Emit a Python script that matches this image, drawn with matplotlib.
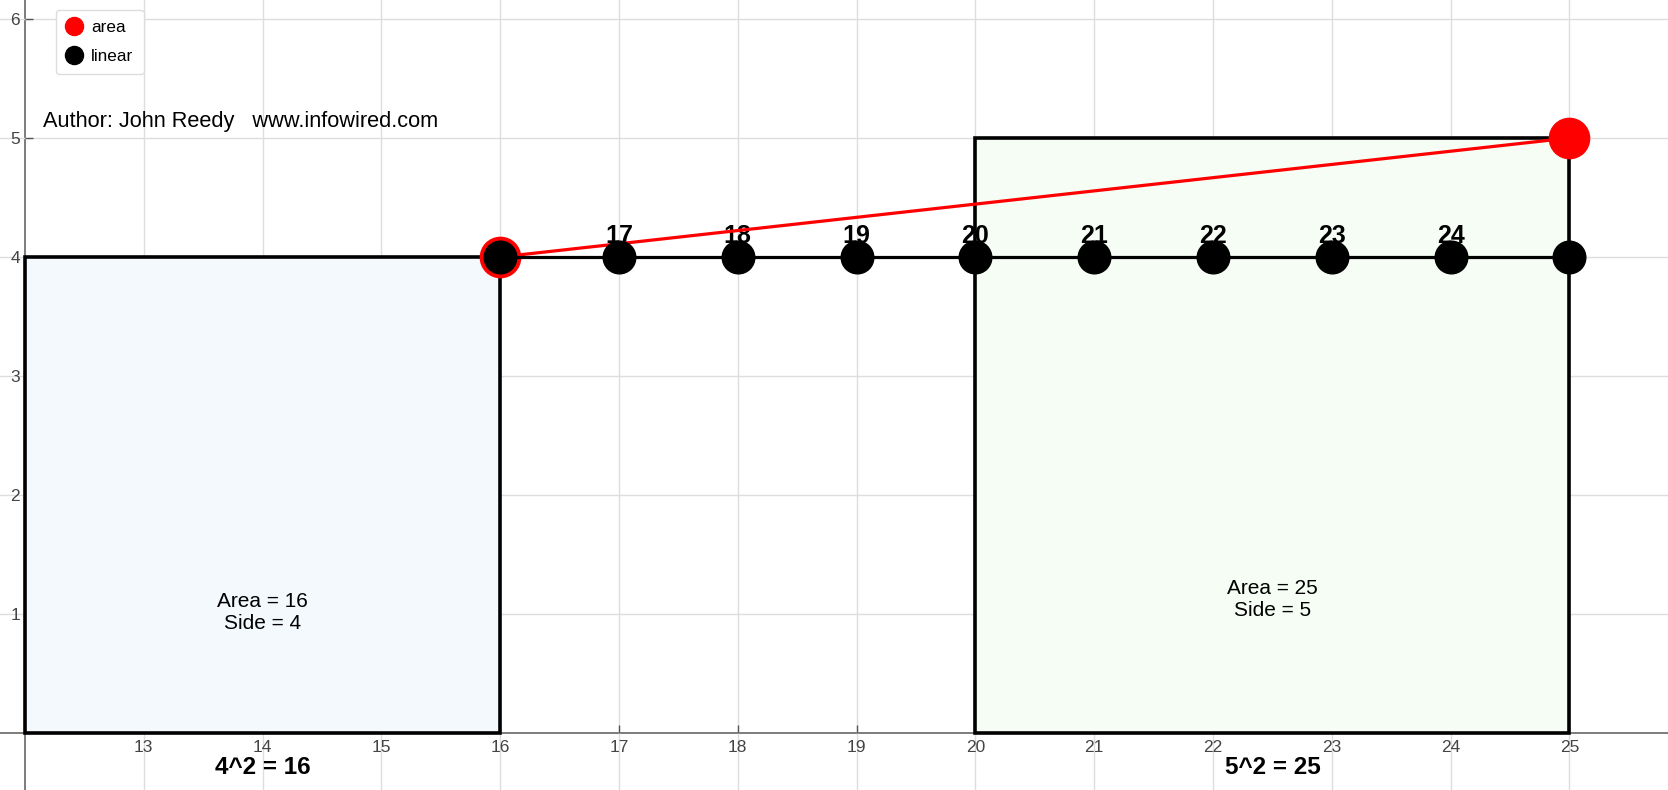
import matplotlib.pyplot as plt
from matplotlib.patches import Rectangle
from matplotlib.lines import Line2D

plt.rcParams['font.family'] = ['Liberation Sans', 'DejaVu Sans']

# data
linear_x = [16, 17, 18, 19, 20, 21, 22, 23, 24, 25]
linear_y = [4, 4, 4, 4, 4, 4, 4, 4, 4, 4]
area_x = [16, 25]
area_y = [4, 5]
point_labels = ['17', '18', '19', '20', '21', '22', '23', '24']
squares = [(12, 4, '#f4f9fd'), (20, 5, '#f5fdf5')]  # left x, side, fill
square_text = ['Area = 16\nSide = 4', 'Area = 25\nSide = 5']
square_text_y = [1.01, 1.12]
bottom_text = ['4^2 = 16', '5^2 = 25']
x_ticks = [13, 14, 15, 16, 17, 18, 19, 20, 21, 22, 23, 24, 25]
y_ticks = [1, 2, 3, 4, 5, 6]

fig = plt.figure(figsize=(16.68, 7.9), dpi=100)
ax = fig.add_axes([0, 0, 1, 1])
ax.set_xlim(11.79, 25.83)
ax.set_ylim(-0.48, 6.16)

# squares
for (x0, side, fc), txt, ty, btxt in zip(squares, square_text, square_text_y, bottom_text):
    ax.add_patch(Rectangle((x0, 0), side, side, facecolor=fc, edgecolor='black',
                           linewidth=2.6, zorder=1))
    cx = x0 + side / 2
    ax.text(cx, ty, txt, ha='center', va='center', fontsize=15, zorder=2,
            linespacing=1.2)
    ax.text(cx, -0.29, btxt, ha='center', va='center', fontsize=17.5,
            fontweight='bold', zorder=2)

# labels over the points
for xv, lab in zip(linear_x[1:-1], point_labels):
    ax.text(xv, 4.12, lab, ha='center', va='baseline', fontsize=18,
            fontweight='bold', zorder=2)

ax.plot(area_x, area_y, color='red', linewidth=2.3, marker='o', markersize=29,
        zorder=3)
ax.plot(linear_x, linear_y, color='black', linewidth=2.3, marker='o',
        markersize=23.5, zorder=4)

ax.text(12.15, 5.09, 'Author: John Reedy   www.infowired.com', fontsize=15.7,
        ha='left', va='baseline', zorder=5)

# axes through (12, 0)
for side in ['top', 'right']:
    ax.spines[side].set_visible(False)
ax.spines['left'].set_position(('data', 12))
ax.spines['bottom'].set_position(('data', 0))
for side in ['left', 'bottom']:
    ax.spines[side].set_color('#666666')
    ax.spines[side].set_linewidth(1.2)
    ax.spines[side].set_zorder(0.5)

ax.set_xticks(x_ticks)
ax.set_yticks(y_ticks)
ax.tick_params(axis='both', direction='in', length=6, width=1, color='#555555',
               labelcolor='#444444', labelsize=12.5)
ax.tick_params(axis='x', pad=5)
ax.tick_params(axis='y', pad=3.5)
ax.grid(True, color='#dddddd', linewidth=1, zorder=0)
ax.set_axisbelow(True)

handles = [Line2D([], [], linestyle='none', marker='o', color='red', markersize=13),
           Line2D([], [], linestyle='none', marker='o', color='black', markersize=13)]
leg = ax.legend(handles, ['area', 'linear'], loc='upper left',
                bbox_to_anchor=(56 / 1668, 1 - 10 / 790), bbox_transform=fig.transFigure,
                borderaxespad=0, fontsize=12.3, handlelength=0.9, handletextpad=0.55,
                labelspacing=0.8, borderpad=0.6, frameon=True, fancybox=True,
                edgecolor='#dddddd', framealpha=1)
leg.set_zorder(6)

fig.savefig('out.png', dpi=100)
